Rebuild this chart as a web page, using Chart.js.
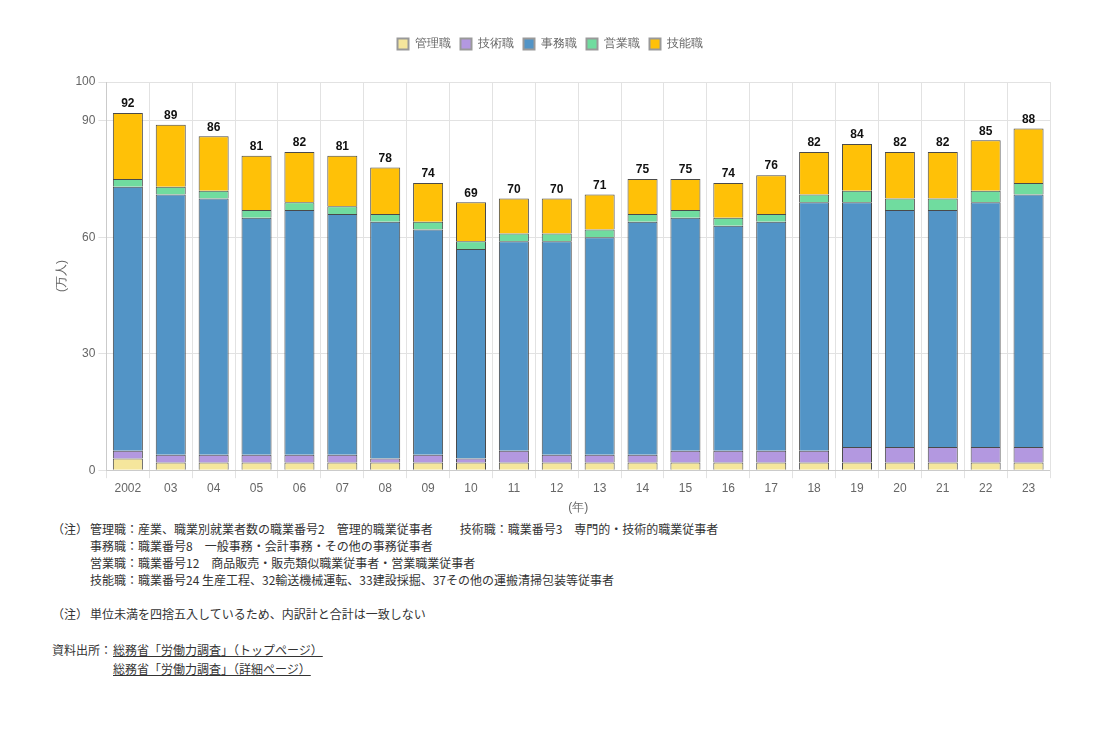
<!DOCTYPE html>
<html lang="ja">
<head>
<meta charset="utf-8">
<script src="https://cdn.jsdelivr.net/npm/chart.js@4.4.0/dist/chart.umd.min.js"></script>
<style>
  body { margin: 0; background: #fff; font-family: "Noto Sans CJK JP", sans-serif; }
  #wrap { position: relative; width: 1100px; height: 519px; }
  .notes { margin: 0; padding-top: 1px; padding-left: 52px; color: #333; font-size: 12px; line-height: 17px; }
  .notes p { margin: 0; }
  .ind { padding-left: 38px; }
  .mk { display: inline-block; width: 38px; }
  .src a { color: #333; text-decoration: underline; }
</style>
</head>
<body>
<div id="wrap"><canvas id="chart-area"></canvas></div>
<div class="notes">
  <p><span class="mk">（注）</span>管理職：産業、職業別就業者数の職業番号2　管理的職業従事者<span style="padding-left:27px">技術職：職業番号3　専門的・技術的職業従事者</span></p>
  <p class="ind">事務職：職業番号8　一般事務・会計事務・その他の事務従事者</p>
  <p class="ind">営業職：職業番号12　商品販売・販売類似職業従事者・営業職業従事者</p>
  <p class="ind">技能職：職業番号24 生産工程、32輸送機械運転、33建設採掘、37その他の運搬清掃包装等従事者</p>
  <p>&nbsp;</p>
  <p><span class="mk">（注）</span>単位未満を四捨五入しているため、内訳計と合計は一致しない</p>
  <p>&nbsp;</p>
  <p class="src" style="margin-top:2px"><span style="display:inline-block;width:61px">資料出所：</span><a>総務省「労働力調査」（トップページ）</a></p>
  <p class="src" style="padding-left:61px;margin-top:2px"><a>総務省「労働力調査」（詳細ページ）</a></p>
</div>
<script>
var years = ["2002", "03", "04", "05", "06", "07", "08", "09", "10", "11", "12",
             "13", "14", "15", "16", "17", "18", "19", "20", "21", "22", "23"];
var kanri   = [3, 2, 2, 2, 2, 2, 2, 2, 2, 2, 2, 2, 2, 2, 2, 2, 2, 2, 2, 2, 2, 2];
var gijutsu = [2, 2, 2, 2, 2, 2, 1, 2, 1, 3, 2, 2, 2, 3, 3, 3, 3, 4, 4, 4, 4, 4];
var jimu    = [68, 67, 66, 61, 63, 62, 61, 58, 54, 54, 55, 56, 60, 60, 58, 59, 64, 63, 61, 61, 63, 65];
var eigyo   = [2, 2, 2, 2, 2, 2, 2, 2, 2, 2, 2, 2, 2, 2, 2, 2, 2, 3, 3, 3, 3, 3];
var ginou   = [17, 16, 14, 14, 13, 13, 12, 10, 10, 9, 9, 9, 9, 8, 9, 10, 11, 12, 12, 12, 13, 14];
var totals  = [92, 89, 86, 81, 82, 81, 78, 74, 69, 70, 70, 71, 75, 75, 74, 76, 82, 84, 82, 82, 85, 88];
var yTicks  = [0, 30, 60, 90, 100];

var totalLabels = {
    id: 'totalLabels',
    afterDatasetsDraw: function(chart) {
        var ctx = chart.ctx;
        var meta = chart.getDatasetMeta(chart.data.datasets.length - 1);
        ctx.save();
        ctx.font = "bold 12px 'Liberation Sans', Arial, sans-serif";
        ctx.fillStyle = '#111';
        ctx.textAlign = 'center';
        ctx.textBaseline = 'bottom';
        meta.data.forEach(function(bar, i) {
            ctx.fillText(totals[i], bar.x, bar.y - 3);
        });
        ctx.restore();
    }
};

// extra space under the legend
var legendGap = {
    id: 'legendGap',
    beforeInit: function(chart) {
        var fit = chart.legend.fit;
        chart.legend.fit = function() {
            fit.bind(chart.legend)();
            this.height += 22;
        };
    }
};

var ds = function(label, data, color) {
    return { label: label, data: data, backgroundColor: color, borderColor: '#4a4a4a', borderWidth: 1 };
};

var config = {
    type: 'bar',
    data: {
        labels: years,
        datasets: [
            ds('管理職', kanri, '#F5E69C'),
            ds('技術職', gijutsu, '#B398E0'),
            ds('事務職', jimu, '#5294C6'),
            ds('営業職', eigyo, '#70DC9F'),
            ds('技能職', ginou, '#FFC107')
        ]
    },
    options: {
        responsive: true,
        maintainAspectRatio: false,
        animation: false,
        layout: { padding: { left: 50, right: 50, top: 28, bottom: 0 } },
        datasets: { bar: { barPercentage: 0.875, categoryPercentage: 0.8 } },
        plugins: {
            legend: {
                position: 'top',
                labels: {
                    color: '#666',
                    font: { size: 12 },
                    boxWidth: 11,
                    boxHeight: 11,
                    padding: 10,
                    generateLabels: function(chart) {
                        var items = Chart.defaults.plugins.legend.labels.generateLabels(chart);
                        items.forEach(function(it) { it.strokeStyle = '#999'; it.lineWidth = 2; });
                        return items;
                    }
                }
            },
            tooltip: { enabled: false }
        },
        scales: {
            x: {
                stacked: true,
                grid: { color: '#e2e2e2' },
                ticks: { color: '#666', font: { size: 12 } },
                title: { display: true, text: '(年)', color: '#666', font: { size: 12 }, padding: { top: 2 } }
            },
            y: {
                stacked: true,
                min: 0,
                max: 100,
                afterBuildTicks: function(axis) {
                    axis.ticks = yTicks.map(function(v) { return { value: v }; });
                },
                grid: { color: '#e2e2e2' },
                ticks: { color: '#666', font: { size: 12 } },
                title: { display: true, text: '(万人)', color: '#666', font: { size: 12 } }
            }
        }
    },
    plugins: [totalLabels, legendGap]
};

window.onload = function() {
    var ctx = document.getElementById("chart-area").getContext("2d");
    window.myBar = new Chart(ctx, config);
};
</script>
</body>
</html>
